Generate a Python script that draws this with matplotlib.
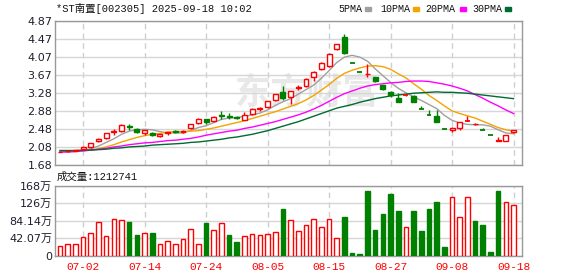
import numpy as np
import matplotlib.pyplot as plt
from matplotlib.patches import Rectangle

# trading days shown on the chart
dates = ['06-27', '06-30', '07-01', '07-02', '07-03', '07-04', '07-07', '07-08', '07-09', '07-10',
         '07-11', '07-14', '07-15', '07-16', '07-17', '07-18', '07-21', '07-22', '07-23', '07-24',
         '07-25', '07-28', '07-29', '07-30', '07-31', '08-01', '08-04', '08-05', '08-06', '08-07',
         '08-08', '08-11', '08-12', '08-13', '08-14', '08-15', '08-18', '08-19', '08-20', '08-21',
         '08-22', '08-25', '08-26', '08-27', '08-28', '08-29', '09-01', '09-02', '09-03', '09-04',
         '09-05', '09-08', '09-09', '09-10', '09-11', '09-12', '09-15', '09-16', '09-17', '09-18']
date_labels = ['07-02', '07-14', '07-24', '08-05', '08-15', '08-27', '09-08', '09-18']

opens = [1.96, 1.98, 2.00, 2.03, 2.07, 2.22, 2.27, 2.40, 2.43, 2.54,
         2.48, 2.38, 2.38, 2.32, 2.38, 2.43, 2.41, 2.49, 2.61, 2.69,
         2.65, 2.78, 2.76, 2.74, 2.68, 2.80, 2.92, 2.97, 3.12, 3.30,
         3.19, 3.39, 3.42, 3.62, 3.80, 3.87, 4.25, 4.51, 3.95, 3.75,
         3.69, 3.62, 3.45, 3.30, 3.17, 3.22, 3.21, 2.93, 2.78, 2.77,
         2.48, 2.45, 2.50, 2.66, 2.58, 2.46, 2.34, 2.22, 2.21, 2.41]
closes = [1.97, 1.99, 2.01, 2.08, 2.16, 2.26, 2.38, 2.43, 2.56, 2.53,
          2.40, 2.45, 2.34, 2.36, 2.40, 2.41, 2.43, 2.58, 2.71, 2.63,
          2.75, 2.77, 2.75, 2.73, 2.79, 2.93, 2.94, 3.09, 3.25, 3.17,
          3.32, 3.41, 3.59, 3.75, 3.94, 4.14, 4.35, 4.16, 3.95, 3.75,
          3.70, 3.53, 3.36, 3.23, 3.08, 3.22, 3.08, 2.93, 2.78, 2.64,
          2.48, 2.50, 2.63, 2.66, 2.59, 2.46, 2.34, 2.23, 2.34, 2.46]
highs = [1.97, 2.00, 2.02, 2.09, 2.17, 2.27, 2.39, 2.47, 2.58, 2.58,
         2.51, 2.46, 2.40, 2.37, 2.42, 2.46, 2.46, 2.59, 2.72, 2.70,
         2.76, 2.88, 2.83, 2.76, 2.85, 2.94, 2.97, 3.10, 3.26, 3.42,
         3.33, 3.45, 3.60, 3.76, 3.96, 4.16, 4.37, 4.58, 3.95, 3.75,
         3.91, 3.63, 3.46, 3.32, 3.28, 3.23, 3.24, 2.99, 2.90, 2.90,
         2.48, 2.53, 2.63, 2.76, 2.61, 2.51, 2.34, 2.30, 2.34, 2.46]
lows = [1.96, 1.97, 1.99, 2.01, 2.06, 2.19, 2.26, 2.34, 2.41, 2.45,
        2.39, 2.34, 2.33, 2.31, 2.34, 2.38, 2.38, 2.48, 2.59, 2.58,
        2.64, 2.69, 2.70, 2.70, 2.67, 2.79, 2.88, 2.94, 3.10, 3.13,
        3.03, 3.35, 3.40, 3.54, 3.78, 3.85, 4.22, 4.15, 3.95, 3.75,
        3.62, 3.52, 3.35, 3.18, 3.07, 3.21, 3.07, 2.93, 2.78, 2.64,
        2.48, 2.41, 2.45, 2.66, 2.56, 2.46, 2.34, 2.22, 2.21, 2.38]
# volume in 万 (10k shares)
volumes = [23, 28, 28, 45, 54, 81.5, 46.7, 88, 86, 82,
           50, 54, 55, 27, 34.5, 28, 40, 64, 27, 79,
           62, 78, 50, 33, 46.7, 51.5, 49, 51.5, 56.4, 113,
           85.6, 59.6, 73.4, 88, 68.5, 88, 41.8, 93.6, 5.3, 3.6,
           157, 62, 101, 150, 106.6, 68.5, 106.6, 59.6, 113, 130,
           20.7, 141.5, 93, 141.5, 84, 74, 8.5, 157, 130, 121.27]

ma5 = [1.97, 1.97, 1.98, 2.00, 2.04, 2.10, 2.18, 2.26, 2.36, 2.43,
       2.46, 2.47, 2.46, 2.42, 2.39, 2.39, 2.39, 2.44, 2.51, 2.55,
       2.62, 2.69, 2.72, 2.73, 2.76, 2.79, 2.83, 2.90, 3.00, 3.08,
       3.15, 3.25, 3.35, 3.45, 3.60, 3.77, 3.95, 4.07, 4.11, 4.07,
       3.98, 3.81, 3.66, 3.51, 3.38, 3.28, 3.19, 3.11, 3.02, 2.93,
       2.78, 2.67, 2.61, 2.58, 2.57, 2.57, 2.54, 2.46, 2.39, 2.37]
ma10 = [2.00, 2.00, 2.00, 2.00, 2.01, 2.04, 2.08, 2.13, 2.19, 2.24,
        2.29, 2.33, 2.36, 2.38, 2.41, 2.42, 2.42, 2.43, 2.44, 2.47,
        2.50, 2.54, 2.58, 2.62, 2.66, 2.71, 2.76, 2.81, 2.86, 2.92,
        2.98, 3.04, 3.12, 3.22, 3.34, 3.46, 3.60, 3.71, 3.78, 3.83,
        3.87, 3.88, 3.86, 3.80, 3.70, 3.61, 3.48, 3.36, 3.22, 3.11,
        2.99, 2.88, 2.82, 2.77, 2.72, 2.65, 2.58, 2.51, 2.46, 2.43]
ma20 = [1.97, 1.97, 1.98, 1.99, 2.01, 2.03, 2.05, 2.08, 2.10, 2.13,
        2.15, 2.17, 2.18, 2.20, 2.22, 2.23, 2.25, 2.27, 2.30, 2.34,
        2.37, 2.40, 2.43, 2.45, 2.49, 2.52, 2.56, 2.60, 2.64, 2.69,
        2.74, 2.79, 2.85, 2.92, 3.00, 3.09, 3.18, 3.26, 3.32, 3.38,
        3.43, 3.46, 3.48, 3.50, 3.51, 3.53, 3.54, 3.54, 3.53, 3.50,
        3.47, 3.43, 3.38, 3.32, 3.24, 3.16, 3.07, 2.99, 2.90, 2.82]
ma30 = [2.00, 2.00, 2.00, 2.01, 2.01, 2.02, 2.03, 2.05, 2.06, 2.08,
        2.09, 2.10, 2.12, 2.13, 2.14, 2.15, 2.16, 2.18, 2.19, 2.21,
        2.23, 2.25, 2.28, 2.30, 2.33, 2.36, 2.40, 2.44, 2.49, 2.54,
        2.59, 2.64, 2.70, 2.76, 2.82, 2.88, 2.94, 2.98, 3.02, 3.07,
        3.11, 3.15, 3.18, 3.21, 3.23, 3.25, 3.27, 3.28, 3.29, 3.30,
        3.29, 3.29, 3.28, 3.27, 3.25, 3.23, 3.21, 3.19, 3.17, 3.15]

price_ticks = [1.68, 2.08, 2.48, 2.88, 3.28, 3.67, 4.07, 4.47, 4.87]
vol_ticks = [0, 42.07, 84.14, 126.21, 168.28]
vol_tick_labels = ['0', '42.07万', '84.14万', '126万', '168万']

RED = '#ff0000'
GREEN = '#008000'
ma_colors = ['#a0a0a0', '#f4a300', '#ff00ff', '#006b30']
ma_names = ['5PMA', '10PMA', '20PMA', '30PMA']
cjk = ['Liberation Mono', 'Noto Sans CJK SC']

o = np.array(opens)
c = np.array(closes)
h = np.array(highs)
l = np.array(lows)
v = np.array(volumes)
x = np.arange(len(dates))
prev = np.r_[o[0], c[:-1]]
vol_up = c >= prev
up = np.where(c == o, vol_up, c > o)

W, H = 578, 276
fig = plt.figure(figsize=(W / 100, H / 100), dpi=100)
ax = fig.add_axes([55 / W, 1 - 165 / H, 467 / W, 144 / H])
axv = fig.add_axes([55 / W, 1 - 255.5 / H, 467 / W, 69.5 / H])

tick_pos = [dates.index(d) for d in date_labels]
for a in (ax, axv):
    a.set_xlim(-0.65, 60.1)
    a.set_xticks(tick_pos)
    a.set_axisbelow(True)
    a.yaxis.grid(True, color='#d6d6d6', lw=1)
    a.xaxis.grid(True, color='#cfcfcf', lw=1, ls=(0, (4, 3)))
    a.tick_params(length=0, labelsize=8, labelcolor='#1e1e2e', pad=2)
    for s in a.spines.values():
        s.set_color('#999999')
        s.set_linewidth(1)

# price panel
ax.set_ylim(1.68, 4.87)
ax.set_yticks(price_ticks)
ax.set_yticklabels(['%.2f' % t for t in price_ticks])
ax.set_xticklabels([])
ax.text(0.54, 0.5, '东方财富', transform=ax.transAxes, ha='center', va='center',
        fontsize=26, fontweight='bold', color='#e8e8e8', family='Noto Sans CJK SC', zorder=0)

for ma, col in zip([ma5, ma10, ma20, ma30], ma_colors):
    ax.plot(x, ma, color=col, lw=1, zorder=2)

cols = np.where(up, RED, GREEN)
ax.vlines(x, l, h, colors=cols, lw=1, zorder=3)
body_lo = np.minimum(o, c)
body_h = np.abs(c - o)
flat = body_h == 0
ax.bar(x[~flat], body_h[~flat], bottom=body_lo[~flat], width=0.64,
       color=np.where(up[~flat], 'white', GREEN), edgecolor=cols[~flat], lw=1, zorder=4)
ax.hlines(c[flat], x[flat] - 0.32, x[flat] + 0.32, colors=cols[flat], lw=1.3, zorder=4)

# volume panel
vcols = np.where(vol_up, RED, GREEN)
axv.bar(x, v, width=0.6, color=np.where(vol_up, 'white', GREEN), edgecolor=vcols, lw=1, zorder=3)
axv.set_ylim(0, 168.28)
axv.set_yticks(vol_ticks)
axv.set_yticklabels(vol_tick_labels, family=['DejaVu Sans', 'Noto Sans CJK SC'])
axv.set_xticklabels(date_labels, color=RED, family='Liberation Mono', fontsize=8)
axv.tick_params(axis='x', pad=5)

# header texts
fig.text(56 / W, 1 - 9 / H, '*ST南置[002305] 2025-09-18 10:02', family=cjk,
         fontsize=7.5, va='center', ha='left', color='#111111')
fig.text(57 / W, 1 - 177 / H, '成交量:1212741', family=cjk,
         fontsize=7.5, va='center', ha='left', color='#111111')

lx = [338, 380, 425, 472]
sx = [365, 413, 460, 505]
for name, col, tx, px in zip(ma_names, ma_colors, lx, sx):
    fig.text(tx / W, 1 - 9 / H, name, family='Liberation Mono', fontsize=7.2,
             va='center', ha='left', color='#111111')
    fig.patches.append(Rectangle((px / W, 1 - 10.5 / H), 5.5 / W, 3 / H,
                                 transform=fig.transFigure, color=col))

fig.savefig('out.png', dpi=100)
